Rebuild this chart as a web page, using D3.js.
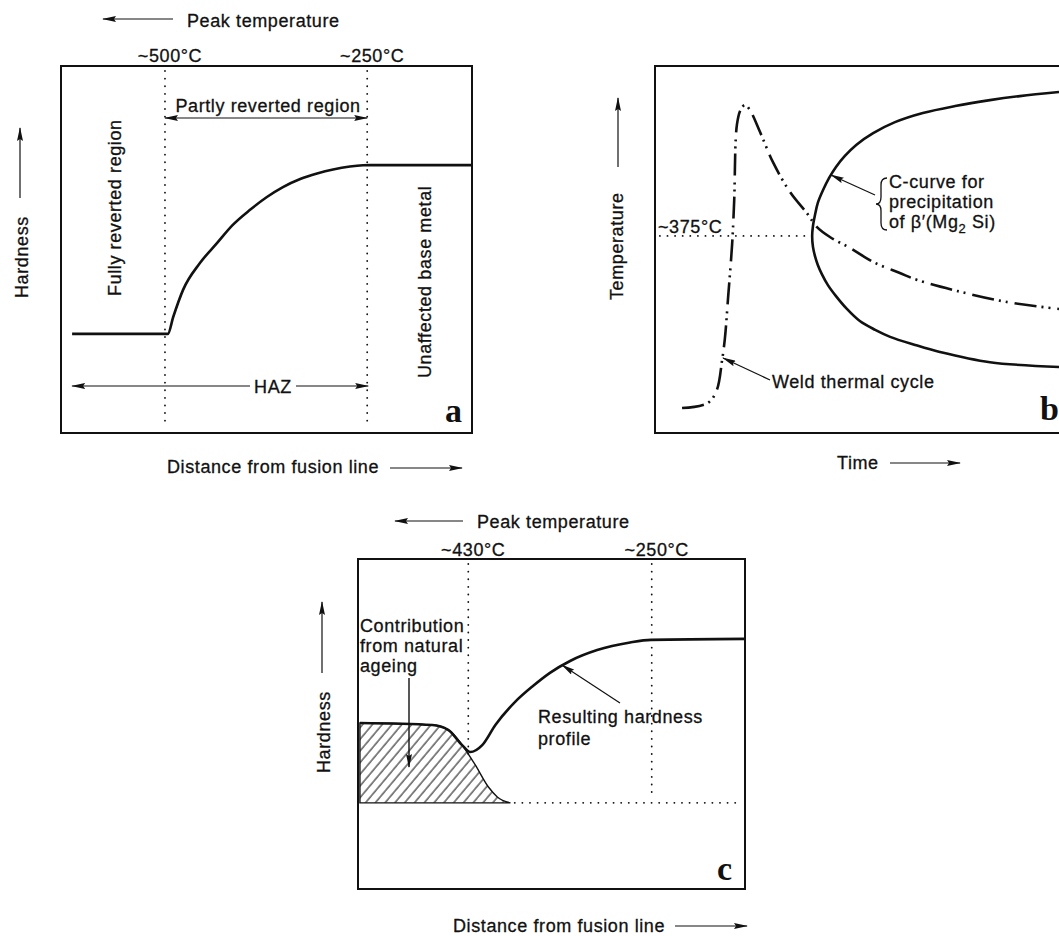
<!DOCTYPE html>
<html><head><meta charset="utf-8">
<script src="https://cdn.jsdelivr.net/npm/d3@7"></script>
<style>
body{margin:0;background:#fff;}
svg text{font-family:"Liberation Sans",Arial,Helvetica,sans-serif;font-size:18px;letter-spacing:0.6px;fill:#111;stroke:#111;stroke-width:0.3px;}
svg text.lbl{font-family:"Liberation Serif","Times New Roman",serif;font-weight:bold;font-size:34px;letter-spacing:0;stroke-width:0;}
</style></head><body>
<script>
// ---------------- DATA ----------------
// Panel a: hardness vs distance (abstract 0-100 units)
const aHardness = [[2.7,27.0],[26.0,27.0],[27.3,31.6],[29.7,39.0],[33.8,46.3],[38.0,51.8],[41.8,56.7],[46.0,60.8],[50.1,64.3],[54.0,67.0],[58.2,69.2],[62.3,70.7],[66.2,71.8],[70.3,72.6],[73.5,72.95],[75.2,73.0],[100,73.0]];
const aDividers = [25.3, 74.5];
const aDividerLabels = ["~500°C", "~250°C"];

// Panel b: temperature vs time
const bWeldCycle = [[6.7,6.8],[13.1,8.2],[15.3,11.7],[16.6,19.8],[17.3,25.8],[18.1,37.0],[19.1,51.6],[19.6,63.3],[20.3,84.2],[21.3,88.3],[22.3,89.4],[23.5,88.0],[26.0,82.0],[29.2,73.8],[33.4,65.7],[37.6,59.9],[40.1,56.1],[43.3,53.4],[48.3,50.4],[54.0,46.6],[60.6,43.6],[64.9,41.7],[74.8,38.7],[87.1,35.7],[100,33.8]];
const bCCurve = [[100,92.9],[90.3,91.8],[82.9,90.7],[74.3,89.1],[66.3,87.2],[59.4,84.7],[54.0,81.7],[49.8,78.5],[47.0,75.5],[44.8,72.5],[43.1,69.5],[41.6,66.2],[40.3,62.7],[39.6,59.4],[39.1,56.4],[38.9,53.7],[39.1,50.7],[39.6,48.2],[40.3,45.8],[41.3,43.3],[42.8,40.3],[44.8,37.3],[47.5,33.8],[50.7,30.5],[54.5,28.1],[58.2,26.2],[64.4,24.0],[70.5,22.1],[82.9,19.3],[100,18.0]];
const bNoseTemp = 53.7;
const bNoseTime = 38.9;
const bNoseLabel = "~375°C";

// Panel c: hardness vs distance
const cResulting = [[0.5,50.3],[19.2,49.7],[23.3,48.2],[26.9,43.6],[29.0,41.5],[32.1,43.6],[35.5,49.7],[40.6,56.7],[45.2,61.5],[49.6,65.5],[54.8,69.1],[61.8,72.4],[70.3,74.7],[75.7,75.5],[100,75.8]];
const cNaturalAgeing = [[0.5,50.3],[19.2,49.7],[23.3,48.2],[26.4,44.5],[28.0,41.8],[30.3,37.6],[33.7,30.9],[36.0,27.9],[39.4,26.1]];
const cBaseline = 26.1;
const cDividers = [28.5, 75.9];
const cDividerLabels = ["~430°C", "~250°C"];

// ---------------- CHART ----------------
const W = 1059, H = 936;
const svg = d3.select("body").append("svg").attr("width", W).attr("height", H);
const defs = svg.append("defs");
defs.append("marker").attr("id","ah").attr("viewBox","0 0 14 6").attr("refX",13).attr("refY",3)
  .attr("markerWidth",14).attr("markerHeight",6).attr("markerUnits","userSpaceOnUse")
  .attr("orient","auto-start-reverse")
  .append("path").attr("d","M0,0 L14,3 L0,6 L2,3 Z").attr("fill","#111");
const pat = defs.append("pattern").attr("id","hatch").attr("patternUnits","userSpaceOnUse")
  .attr("width",7.5).attr("height",10).attr("patternTransform","rotate(40)");
pat.append("line").attr("x1",1).attr("y1",-2).attr("x2",1).attr("y2",12).attr("stroke","#222").attr("stroke-width",1.1);

const xa = d3.scaleLinear([0,100],[61,472]), ya = d3.scaleLinear([0,100],[433,66]);
const xb = d3.scaleLinear([0,100],[655,1059]), yb = d3.scaleLinear([0,100],[433,66]);
const xc = d3.scaleLinear([0,100],[358,745]), yc = d3.scaleLinear([0,100],[889,559]);

const mkLine = (xs, ys, curve) => d3.line().x(d => xs(d[0])).y(d => ys(d[1])).curve(curve);

function text(x, y, s, anchor="start", rot=false, cls=null) {
  const t = svg.append("text").attr("text-anchor", anchor);
  if (rot) t.attr("transform", `translate(${x},${y}) rotate(-90)`);
  else t.attr("x", x).attr("y", y);
  if (cls) t.attr("class", cls);
  t.text(s);
  return t;
}
function arrow(x1,y1,x2,y2,both=false,w=1.2) {
  const l = svg.append("line").attr("x1",x1).attr("y1",y1).attr("x2",x2).attr("y2",y2)
    .attr("stroke","#111").attr("stroke-width",w).attr("marker-end","url(#ah)");
  if (both) l.attr("marker-start","url(#ah)");
  return l;
}
function dotted(x1,y1,x2,y2) {
  svg.append("line").attr("x1",x1).attr("y1",y1).attr("x2",x2).attr("y2",y2)
    .attr("stroke","#111").attr("stroke-width",1.8).attr("stroke-linecap","round")
    .attr("stroke-dasharray","0.1,7.5");
}
function box(x0,y0,x1,y1) {
  svg.append("rect").attr("x",x0).attr("y",y0).attr("width",x1-x0).attr("height",y1-y0)
    .attr("fill","none").attr("stroke","#111").attr("stroke-width",2);
}

// ===== Panel a =====
box(xa(0), ya(100), xa(100), ya(0));
aDividers.forEach((d,i) => {
  dotted(xa(d), ya(100)+5, xa(d), ya(0)-5);
  text(xa(d)+5, ya(100)-4, aDividerLabels[i], "middle");
});
svg.append("path").datum(aHardness).attr("d", mkLine(xa, ya, d3.curveMonotoneX))
  .attr("fill","none").attr("stroke","#111").attr("stroke-width",2.6);
arrow(173, 19, 103, 19);
text(187, 27, "Peak temperature");
text((xa(aDividers[0])+xa(aDividers[1]))/2 + 2, 112, "Partly reverted region", "middle");
arrow(xa(aDividers[0]), 118, xa(aDividers[1]), 118, true);
arrow(250, 386, xa(2.7), 386);
arrow(296, 386, xa(aDividers[1])+1, 386);
text(273, 393, "HAZ", "middle");
text(121, 296, "Fully reverted region", "start", true);
text(431, 378, "Unaffected base metal", "start", true);
text(28, 298, "Hardness", "start", true);
arrow(20, 198, 20, 128);
text(167, 473, "Distance from fusion line");
arrow(390, 468, 462, 468);
text(445, 422, "a", "start", false, "lbl");

// ===== Panel b =====
box(xb(0), yb(100), 1075, yb(0));
dotted(xb(1.2), yb(bNoseTemp), xb(bNoseTime), yb(bNoseTemp));
text(658, 233, bNoseLabel);
svg.append("path").datum(bCCurve).attr("d", mkLine(xb, yb, d3.curveCatmullRom.alpha(0.5)))
  .attr("fill","none").attr("stroke","#111").attr("stroke-width",2.6);
svg.append("path").datum(bWeldCycle).attr("d", mkLine(xb, yb, d3.curveCatmullRom.alpha(0.5)))
  .attr("fill","none").attr("stroke","#111").attr("stroke-width",2.6)
  .attr("stroke-dasharray","22,5,2,5,2,7");
text(623, 300, "Temperature", "start", true);
arrow(618, 167, 618, 98);
svg.append("path").attr("d","M887,178 Q881,178 881,185 L881,197 Q881,204 876,204 Q881,204 881,211 L881,223 Q881,230 887,230")
  .attr("fill","none").attr("stroke","#111").attr("stroke-width",1.3);
text(889, 188, "C-curve for");
text(889, 208, "precipitation");
const t3 = text(889, 228, "of β′(Mg");
t3.append("tspan").attr("dy",5).attr("font-size","13px").text("2");
t3.append("tspan").attr("dy",-5).text(" Si)");
arrow(875, 195, xb(43.3)+1, yb(70.3));
text(772, 388, "Weld thermal cycle");
arrow(770, 380, 723, 358);
text(837, 469, "Time");
arrow(890, 463, 960, 463);
text(1040, 420, "b", "start", false, "lbl");

// ===== Panel c =====
box(xc(0), yc(100), xc(100), yc(0));
const ageTop = mkLine(xc, yc, d3.curveMonotoneX)(cNaturalAgeing);
svg.append("path").attr("d", ageTop + `L${xc(cNaturalAgeing[0][0])},${yc(cBaseline)}Z`)
  .attr("fill","url(#hatch)").attr("stroke","#111").attr("stroke-width",1.4);
cDividers.forEach((d,i) => {
  dotted(xc(d), yc(100)+5, xc(d), i===0 ? yc(41.5)+6 : yc(cBaseline)-4);
  text(xc(d)+5, yc(100)-3, cDividerLabels[i], "middle");
});
dotted(xc(40.5), yc(cBaseline), xc(100)-3, yc(cBaseline));
svg.append("path").datum(cResulting).attr("d", mkLine(xc, yc, d3.curveMonotoneX))
  .attr("fill","none").attr("stroke","#111").attr("stroke-width",2.6);
arrow(463, 521, 395, 521);
text(477, 528, "Peak temperature");
text(360, 632, "Contribution");
text(360, 652, "from natural");
text(360, 672, "ageing");
arrow(409, 678, 409, 767, false, 1.4);
text(538, 723, "Resulting hardness");
text(538, 745, "profile");
arrow(620, 703, 562, 665);
text(330, 773, "Hardness", "start", true);
arrow(322, 673, 322, 602);
text(453, 932, "Distance from fusion line");
arrow(675, 926, 747, 926);
text(717, 880, "c", "start", false, "lbl");
</script>
</body></html>
